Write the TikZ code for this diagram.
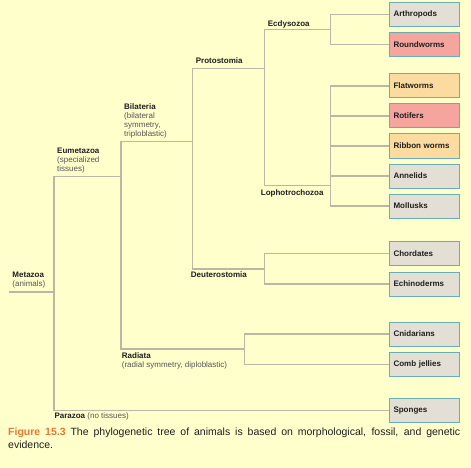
\documentclass[tikz,border=0pt]{standalone}
\usepackage{fontspec}
\setmainfont{Liberation Sans}
\usetikzlibrary{positioning}
\definecolor{paper}{RGB}{255,255,204}
\definecolor{twig}{RGB}{190,182,165}
\definecolor{boxrim}{RGB}{107,174,178}
\definecolor{stone}{RGB}{227,223,213}
\definecolor{rose}{RGB}{245,165,158}
\definecolor{apricot}{RGB}{252,219,160}
\definecolor{ink}{RGB}{30,30,30}
\definecolor{greyink}{RGB}{85,85,85}
\definecolor{figorange}{RGB}{232,120,50}
\newcommand{\cladenote}[1]{\textcolor{greyink}{\mdseries #1}}

\begin{document}
\begin{tikzpicture}[x=1pt, y=-1pt,
		branch/.style={line width=1.2pt, color=twig},
		taxon/.style={draw=boxrim, line width=1pt, fill=stone, anchor=west,
			text width=62pt, inner xsep=4pt, inner ysep=0pt, minimum height=24pt,
			align=left, text=ink, font=\fontsize{8}{9}\selectfont\bfseries},
		clade/.style={inner sep=0pt, anchor=base west, text=ink,
			font=\fontsize{8}{9}\selectfont\bfseries},
		cladeblock/.style={clade, anchor=north west, align=left}]
		%%%%% START %%%%%
		
		\fill[paper] (0, 0) rectangle (471, 468);
		\useasboundingbox (0, 0) rectangle (471, 468);
		
		% the boxes
		\node[taxon] (arth) at (389, 14.7) {Arthropods};
		\node[taxon, fill=rose] (round) at (389, 44.7) {Roundworms};
		\node[taxon, fill=apricot] (flat) at (389, 86) {Flatworms};
		\node[taxon, fill=rose] (roti) at (389, 116) {Rotifers};
		\node[taxon, fill=apricot] (ribb) at (389, 146) {Ribbon worms};
		\node[taxon] (anne) at (389, 176) {Annelids};
		\node[taxon] (moll) at (389, 206) {Mollusks};
		\node[taxon] (chor) at (389, 253.7) {Chordates};
		\node[taxon] (echi) at (389, 284) {Echinoderms};
		\node[taxon] (cnid) at (389, 334) {Cnidarians};
		\node[taxon] (comb) at (389, 364.3) {Comb jellies};
		\node[taxon] (spon) at (389, 410.3) {Sponges};
		
		% the forks
		\coordinate (ecdy) at (330.7, 29.3);
		\coordinate (lopho) at (330.7, 185.7);
		\coordinate (proto) at (264.3, 68.3);
		\coordinate (deut) at (264.3, 269);
		\coordinate (bilat) at (192.3, 141.7);
		\coordinate (radi) at (244.3, 349);
		\coordinate (eumet) at (121, 176.7);
		\coordinate (meta) at (54, 292);
		\coordinate (stem) at (9, 292);
		
		\draw[branch] (ecdy) |- (arth.west);
		\draw[branch] (ecdy) |- (round.west);
		\foreach \t in {flat, roti, ribb, anne, moll}
			\draw[branch] (lopho) |- (\t.west);
		\draw[branch] (proto) |- (ecdy);
		\draw[branch] (proto) |- (lopho);
		\draw[branch] (deut) |- (chor.west);
		\draw[branch] (deut) |- (echi.west);
		\draw[branch] (bilat) |- (proto);
		\draw[branch] (bilat) |- (deut);
		\draw[branch] (radi) |- (cnid.west);
		\draw[branch] (radi) |- (comb.west);
		\draw[branch] (eumet) |- (bilat);
		\draw[branch] (eumet) |- (radi);
		\draw[branch] (meta) |- (eumet);
		\draw[branch] (meta) |- (spon.west);
		\draw[branch] (stem) -- (meta);
		
		% the clade names
		\node[clade] (ecdylab) at (267.7, 26.7) {Ecdysozoa};
		\node[clade] (protolab) at (195.7, 63.3) {Protostomia};
		\node[clade] (lopholab) at (260.7, 195.7) {Lophotrochozoa};
		\node[clade] (deutlab) at (190.7, 277) {Deuterostomia};
		\node[cladeblock] (bilatlab) at (124, 103.2) {Bilateria\\
			\cladenote{(bilateral}\\
			\cladenote{symmetry,}\\
			\cladenote{triploblastic)}};
		\node[cladeblock] (eumetlab) at (57, 148.2) {Eumetazoa\\
			\cladenote{(specialized}\\
			\cladenote{tissues)}};
		\node[cladeblock] (metalab) at (12.3, 271.5) {Metazoa\\
			\cladenote{(animals)}};
		\node[cladeblock] (radilab) at (121.7, 352.5) {Radiata\\
			\cladenote{(radial symmetry, diploblastic)}};
		\node[clade] (paralab) at (54.3, 418.3) {Parazoa \cladenote{(no tissues)}};
		
		% caption
		\node[anchor=north west, inner sep=0pt, text width=452pt, align=justify,
			text=ink, font=\fontsize{10.5}{12.6}\selectfont] (caption) at (8, 427.7)
			{\textcolor{figorange}{\bfseries Figure 15.3} The phylogenetic tree of animals is based on morphological, fossil, and genetic\linebreak evidence.};
		
		%%%%% END %%%%%
\end{tikzpicture}
\end{document}
